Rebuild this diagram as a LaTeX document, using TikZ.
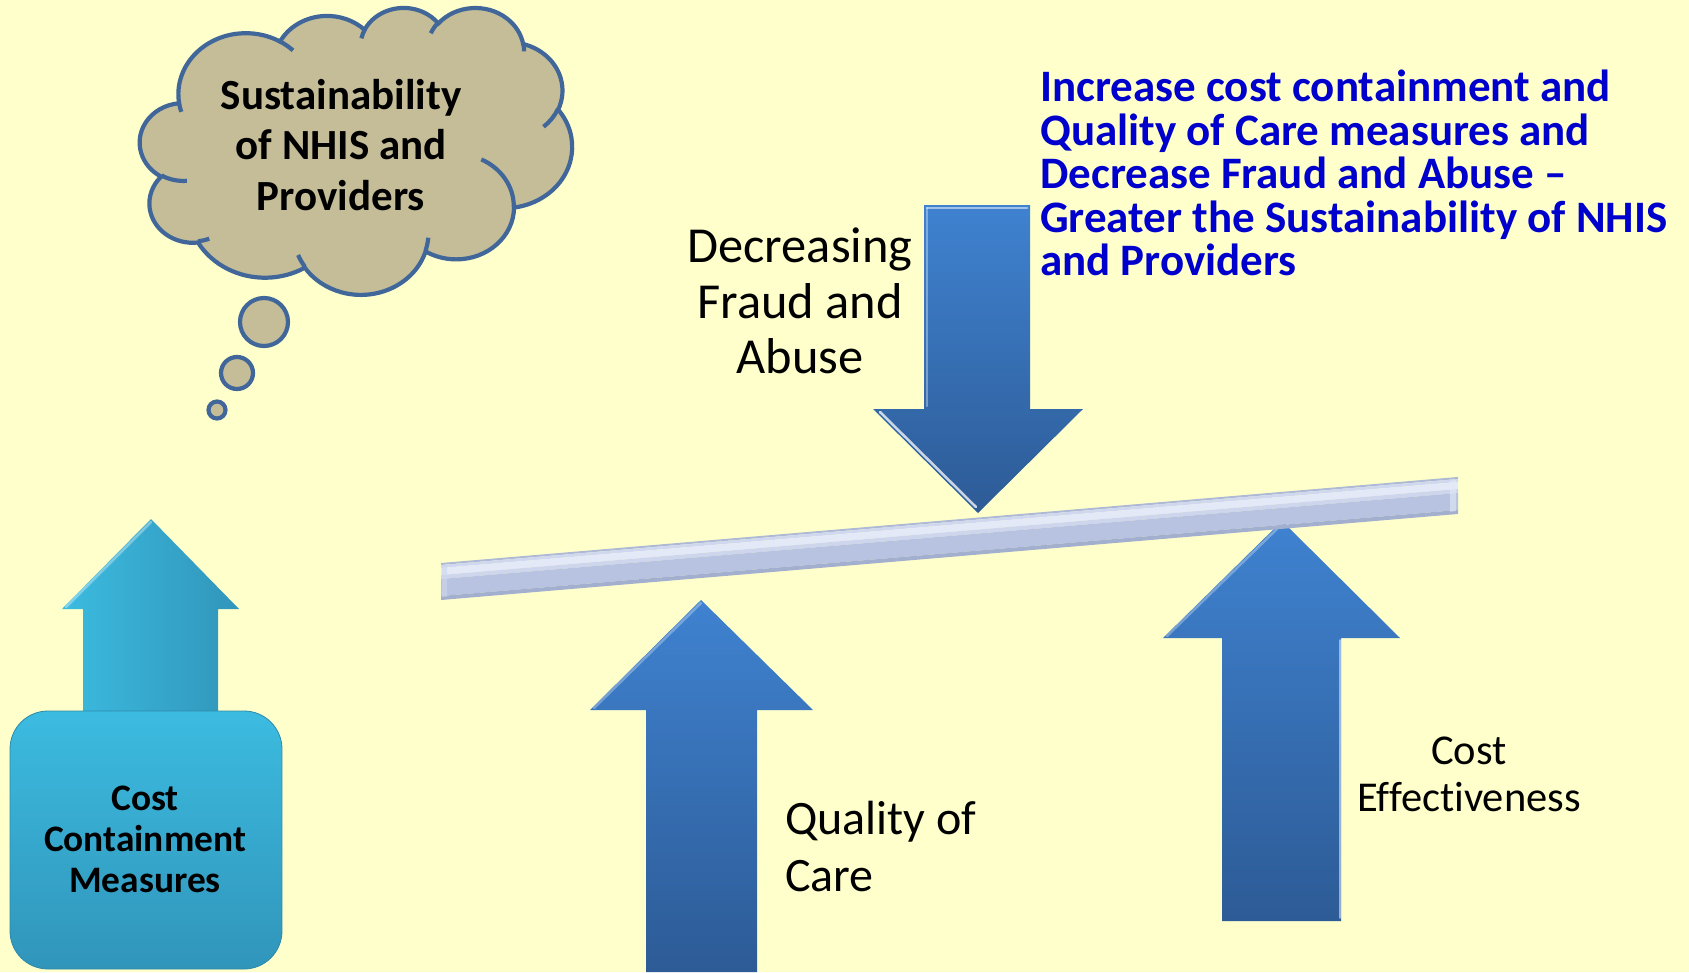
\documentclass[tikz,border=0pt]{standalone}
\usepackage{fontspec}
\setmainfont{Carlito}[Ligatures=CommonOff]
\definecolor{bg}{HTML}{FFFFCC}
\definecolor{cloudfill}{HTML}{C4BD97}
\definecolor{cloudline}{HTML}{41679A}
\definecolor{blueA}{HTML}{3F82D0}
\definecolor{blueB}{HTML}{2D5B96}
\definecolor{cyanA}{HTML}{3CBBE0}
\definecolor{cyanB}{HTML}{3195BA}
\definecolor{titleblue}{HTML}{0000CC}
\definecolor{barA}{HTML}{AEB9D6}
\definecolor{barB}{HTML}{CFD8EE}
\definecolor{barC}{HTML}{E3E9F7}
\definecolor{barD}{HTML}{CDD6EC}
\definecolor{barE}{HTML}{B7C3E0}
\definecolor{barF}{HTML}{A3AFCF}
\newcommand\cldarc[4]{arc[x radius=#1, y radius=#2, start angle={atan2((#1)*sin(#3),(#2)*cos(#3))}, delta angle={mod(atan2((#1)*sin((#3)+(#4)),(#2)*cos((#3)+(#4)))-atan2((#1)*sin(#3),(#2)*cos(#3))+720,360)}]}
\tikzset{
  cloudstroke/.style={draw=cloudline, line width=4.2pt},
  bluearrow/.style={top color=blueA, bottom color=blueB},
  hilite/.style={draw=white, draw opacity=0.55, line width=2.5pt, line cap=round},
  lbl/.style={inner sep=0pt, text=black}
}
\begin{document}
\begin{tikzpicture}[x=1pt,y=-1pt]
\fill[bg] (0,0) rectangle (1689,972);
\useasboundingbox (0,0) rectangle (1689,972);

% ---- thought cloud ----
\begin{scope}[shift={(140,7)}, yscale=0.664]
  \filldraw[fill=cloudfill, cloudstroke] (39,143.7)
    \cldarc{67.53}{91.90}{-190.4875}{123.7805}
    \cldarc{53.33}{72.67}{-144.1024}{89.9452}
    \cldarc{43.65}{59.45}{-145.8079}{99.7230}
    \cldarc{48.57}{65.95}{-130.9861}{117.2417}
    \cldarc{53.33}{72.73}{-78.7089}{109.0269}
    \cldarc{67.75}{92.20}{-46.2673}{130.2690}
    \cldarc{57.85}{78.67}{0.6250}{114.0333}
    \cldarc{67.52}{92.15}{22.4516}{115.1726}
    \cldarc{77.20}{105.43}{66.2426}{75.7110}
    \cldarc{43.60}{59.18}{-274.9421}{146.7356}
    \cldarc{43.45}{59.45}{-246.8285}{152.5189}
    -- cycle;
  \draw[cloudstroke]
    (46.93,261.77) \cldarc{43.45}{59.45}{86.7420}{26.4295}
    (69.28,348.99) \cldarc{43.60}{59.18}{73.6105}{11.4475}
    (164.78,390.90) \cldarc{67.52}{92.15}{137.6242}{14.0811}
    (288.27,347.51) \cldarc{67.52}{92.15}{6.4533}{15.9984}
    (341.29,229.54) \cldarc{57.85}{78.67}{-70.2924}{70.9174}
    (417.98,153.54) \cldarc{53.33}{72.73}{30.3180}{27.7515}
    (383.24,54.26) \cldarc{48.57}{65.95}{-13.7443}{14.8589}
    (290.78,39.52) \cldarc{48.57}{65.95}{-149.1815}{18.1954}
    (221.41,47.20) \cldarc{43.65}{59.45}{-163.4943}{17.6864}
    (140.00,51.92) \cldarc{67.53}{91.90}{-66.7070}{12.3194}
    (41.27,157.89) \cldarc{67.53}{91.90}{157.6544}{11.8582};
\end{scope}
\filldraw[fill=cloudfill, cloudstroke] (264,322) circle[radius=24];
\filldraw[fill=cloudfill, cloudstroke] (237,373) circle[radius=16];
\filldraw[fill=cloudfill, cloudstroke] (217,410) circle[radius=8.5];
\node[lbl, align=center, font=\bfseries\fontsize{43}{50.6}\selectfont] (sust) at (341,145)
  {Sustainability\\of NHIS and\\Providers};

% ---- cost containment ----
\shade[left color=cyanA, right color=cyanB]
  (83,712) -- (83,609) -- (62,609) -- (151,519) -- (239,609) -- (218,609) -- (218,712) -- cycle;
\draw[hilite, draw opacity=0.35] (66,607) -- (151,522);
\shade[top color=cyanA, bottom color=cyanB, draw=cyanB!92!black, line width=0.8pt, rounded corners=38pt]
  (10,711) rectangle (282,969);
\node[lbl, align=center, font=\bfseries\fontsize{37.4}{41}\selectfont] (ccm) at (145,839)
  {Cost\\Containment\\Measures};

% ---- up arrows ----
\shade[bluearrow] (646,972) -- (646,710) -- (590,710) -- (701,600) -- (813,710) -- (757,710) -- (757,972) -- cycle;
\draw[hilite, draw opacity=0.3] (594,708) -- (701,603);
\shade[bluearrow] (1222,921) -- (1222,638) -- (1163,638) -- (1282,521) -- (1400,638) -- (1341,638) -- (1341,921) -- cycle;
\draw[hilite, draw opacity=0.3] (1167,636) -- (1282,524);
\draw[hilite, draw opacity=0.5, line width=1.5pt] (1340,640) -- (1340,918);

% ---- down arrow ----
\shade[bluearrow] (924,205) -- (1030,205) -- (1030,409) -- (1083,409) -- (978,513) -- (873,409) -- (924,409) -- cycle;
\draw[hilite, draw opacity=0.5] (927,208) -- (1027,208);
\draw[hilite, draw opacity=0.35] (927,208) -- (927,406);
\draw[hilite, draw opacity=0.75] (880,412) -- (976,507);

% ---- beam ----
\begin{scope}[shift={(441,563)}, yslant=0.0846]
  \fill[barA] (0,0) rectangle (1017,2);
  \fill[barB] (0,2) rectangle (1017,5);
  \fill[barC] (0,5) rectangle (1017,12);
  \fill[barD] (0,12) rectangle (1017,16);
  \fill[barE] (0,16) rectangle (1017,33);
  \fill[barF] (0,33) rectangle (1017,37);
  \fill[barC, opacity=0.6] (1009,3) rectangle (1015,34);
  \fill[barD, opacity=0.6] (1,3) rectangle (6,34);
\end{scope}

% ---- labels ----
\node[lbl, align=center, font=\fontsize{50.4}{55.5}\selectfont] (dfa) at (800,301)
  {Decreasing\\Fraud and\\Abuse};
\node[lbl, align=left, anchor=west, font=\fontsize{48}{57}\selectfont] (qoc) at (785,846)
  {Quality of\\Care};
\node[lbl, align=center, font=\fontsize{42.5}{47}\selectfont] (ce) at (1469,774)
  {Cost\\Effectiveness};
\node[lbl, align=left, anchor=west, text=titleblue, font=\bfseries\fontsize{45}{43.6}\selectfont] (title) at (1040,173)
  {Increase cost containment and\\Quality of Care measures and\\Decrease Fraud and Abuse –\\Greater the Sustainability of NHIS\\and Providers};
\end{tikzpicture}
\end{document}
